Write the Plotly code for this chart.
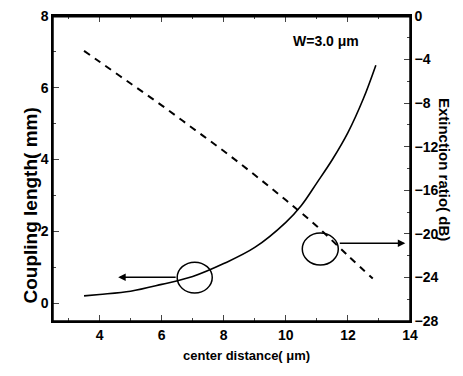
import plotly.graph_objects as go

# Coupling length (left axis, mm) vs center distance (um)
dist_solid = [3.5, 4, 5, 6, 7, 8, 9, 10, 10.5, 11, 11.5, 12, 12.5, 12.9]
coupling_len = [0.20, 0.24, 0.33, 0.52, 0.74, 1.10, 1.55, 2.25, 2.72, 3.35, 4.0, 4.75, 5.7, 6.63]

# Extinction ratio (right axis, dB)
dist_dash = [3.5, 4, 5, 6, 7, 8, 9, 10, 11, 12, 12.8]
extinction = [-3.2, -4.2, -6.2, -8.2, -10.3, -12.4, -14.6, -16.9, -19.3, -22.0, -24.1]

x_ticks = [4, 6, 8, 10, 12, 14]
y_ticks = [0, 2, 4, 6, 8]
y2_ticks = [0, -4, -8, -12, -16, -20, -24, -28]

FONT = "Liberation Sans, Arial, sans-serif"

fig = go.Figure()
fig.add_trace(go.Scatter(x=dist_solid, y=coupling_len, mode="lines",
                         line=dict(color="black", width=1.6, shape="spline"),
                         showlegend=False))
fig.add_trace(go.Scatter(x=dist_dash, y=extinction, mode="lines", yaxis="y2",
                         line=dict(color="black", width=2, dash="7px,6px", shape="spline"),
                         showlegend=False))
# invisible trace to carry the top (mirror) axis
fig.add_trace(go.Scatter(x=dist_dash, y=extinction, mode="lines", xaxis="x2", yaxis="y2",
                         line=dict(color="rgba(0,0,0,0)", width=0), hoverinfo="skip",
                         showlegend=False))

tickfont = dict(family=FONT, size=14, color="black", weight="bold")

fig.update_layout(
    width=463, height=376,
    margin=dict(l=53, r=53, t=16, b=55, autoexpand=False),
    plot_bgcolor="white", paper_bgcolor="white",
    xaxis=dict(range=[2.5, 14], tickvals=x_ticks, ticks="inside", ticklen=6,
               tickwidth=1.3, showline=True, linecolor="black", linewidth=1.5,
               showgrid=False, zeroline=False, tickfont=tickfont,
               automargin=False,
               minor=dict(dtick=1, tick0=0, ticks="inside", ticklen=3, tickwidth=1.2)),
    xaxis2=dict(range=[2.5, 14], tickvals=x_ticks, overlaying="x", side="top",
                ticks="inside", ticklen=6, tickwidth=1.3, showline=True,
                linecolor="black", linewidth=2, showgrid=False, zeroline=False,
                showticklabels=False, automargin=False,
                minor=dict(dtick=1, tick0=0, ticks="inside", ticklen=3, tickwidth=1.2)),
    yaxis=dict(range=[-0.5, 8], tickvals=y_ticks, ticks="inside", ticklen=6,
               tickwidth=1.3, showline=True, linecolor="black", linewidth=1.5,
               showgrid=False, zeroline=False, tickfont=tickfont, automargin=False,
               minor=dict(dtick=1, tick0=0, ticks="inside", ticklen=3, tickwidth=1.2)),
    yaxis2=dict(range=[-28, 0], tickvals=y2_ticks, overlaying="y", side="right",
                ticks="inside", ticklen=6, tickwidth=1.3, showline=True,
                linecolor="black", linewidth=1.5, showgrid=False, zeroline=False,
                tickfont=tickfont, automargin=False,
                minor=dict(dtick=2, tick0=0, ticks="inside", ticklen=3, tickwidth=1.2)),
)

# frame around the plotting area
fig.add_shape(type="rect", xref="paper", yref="paper", x0=0, x1=1, y0=0, y1=1,
              line=dict(color="black", width=1.5), layer="above")
fig.add_shape(type="line", xref="paper", yref="paper", x0=0, x1=1, y0=0.998, y1=0.998,
              line=dict(color="black", width=2), layer="above")

# circles marking which curve belongs to which axis
fig.add_shape(type="circle", xref="x", yref="y", x0=6.5, x1=7.63, y0=0.28, y1=1.14,
              line=dict(color="black", width=1.5))
fig.add_shape(type="circle", xref="x", yref="y", x0=10.53, x1=11.69, y0=1.06, y1=1.95,
              line=dict(color="black", width=1.5))

fig.add_annotation(x=4.6, y=0.72, ax=6.5, ay=0.72, xref="x", yref="y", axref="x", ayref="y",
                   showarrow=True, arrowhead=2, arrowsize=1, arrowwidth=1.5, arrowcolor="black", text="")
fig.add_annotation(x=13.85, y=1.67, ax=11.69, ay=1.67, xref="x", yref="y", axref="x", ayref="y",
                   showarrow=True, arrowhead=2, arrowsize=1, arrowwidth=1.5, arrowcolor="black", text="")

fig.add_annotation(text="W=3.0 μm", x=0.862, y=0.951, xref="paper", yref="paper",
                   showarrow=False, font=dict(family=FONT, size=14, color="black", weight="bold"))
fig.add_annotation(text="center distance( μm)", x=0.542, y=-0.144, xref="paper", yref="paper",
                   showarrow=False, font=dict(family=FONT, size=13, color="black", weight="bold"))
fig.add_annotation(text="Coupling length( mm)", x=-0.098, y=0.377, xref="paper", yref="paper",
                   textangle=-90, showarrow=False,
                   font=dict(family=FONT, size=19, color="black", weight="bold"))
fig.add_annotation(text="Extinction ratio( dB)", x=1.128, y=0.498, xref="paper", yref="paper",
                   textangle=90, showarrow=False,
                   font=dict(family=FONT, size=15, color="black", weight="bold"))

fig.write_html("out.html", config={"displayModeBar": False},
               post_script="document.body.style.margin='0';document.body.style.overflow='hidden';")
